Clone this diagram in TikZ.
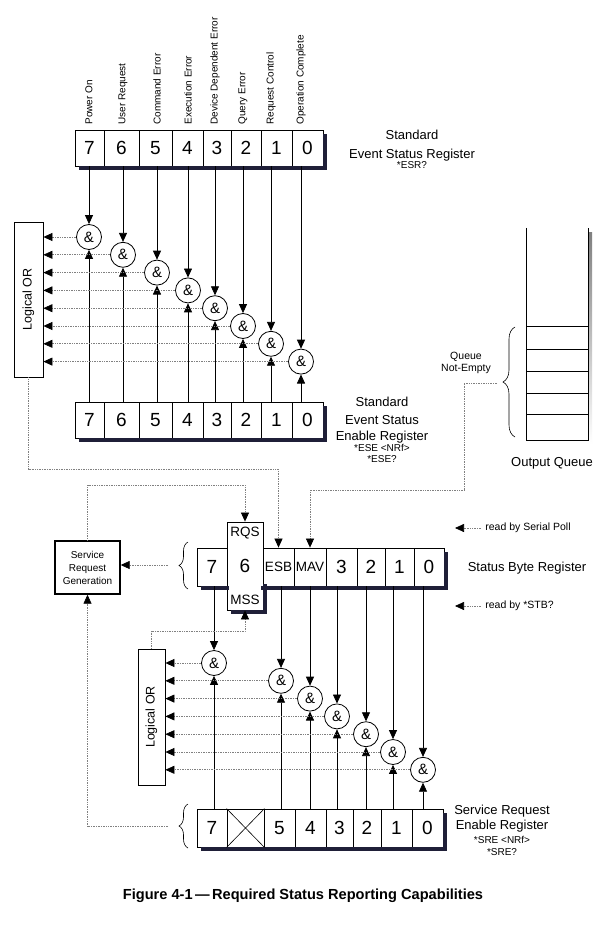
\documentclass[tikz,border=0pt]{standalone}
\usepackage{fontspec}
\setmainfont{Liberation Sans}
\usepackage{graphicx}
\usetikzlibrary{arrows.meta,positioning,decorations.pathreplacing}

\definecolor{shade}{rgb}{0.12,0.12,0.22}
\newcommand{\subfont}{\fontsize{10}{11}\selectfont}
\newcommand{\tagfont}{\fontsize{13.5}{14}\selectfont}

\begin{document}
\begin{tikzpicture}[
    x=1pt,y=-1pt,line width=0.8pt,
    cell/.style={draw,fill=white,inner sep=0pt,minimum height=36pt,
        font=\fontsize{19}{19}\selectfont},
    shadowline/.style={line width=4pt,line cap=rect,draw=shade},
    tag/.style={inner sep=0pt,font=\tagfont},
    andgate/.style={draw,circle,fill=white,inner sep=0pt,minimum size=25pt,
        font=\fontsize{15}{15}\selectfont},
    orbox/.style={draw,fill=white,inner sep=0pt,font=\fontsize{12.5}{12.5}\selectfont},
    srgbox/.style={draw,line width=1.4pt,align=center,inner sep=0pt,
        minimum width=65pt,minimum height=53pt,font=\fontsize{10}{13}\selectfont},
    bitlabel/.style={rotate=90,anchor=west,inner sep=0pt,font=\fontsize{10}{10}\selectfont},
    reglabel/.style={align=center,inner sep=0pt,font=\fontsize{13}{17}\selectfont},
    note/.style={align=center,inner sep=0pt,font=\fontsize{10.5}{12}\selectfont},
    arrow/.style={-{Triangle[length=9pt,width=8pt]}},
    dotarrow/.style={draw=black!50,densely dotted,line width=0.7pt,
        -{Triangle[length=9pt,width=8pt,color=black]}},
    brace/.style={decorate,decoration={brace,amplitude=9pt},line width=0.6pt}
]
\fill[white] (0,0) rectangle (606,925);
\useasboundingbox (0,0) rectangle (606,925);

% event status register and its enable register
\foreach \b/\xa/\xb in {7/75/104,6/104/139,5/139/172,4/172/203,3/203/231,2/231/261,1/261/292,0/292/323}{
    \pgfmathsetmacro\w{\xb-\xa}
    \node[cell,minimum width=\w pt] (esr\b) at ({(\xa+\xb)/2},148) {\b};
    \node[cell,minimum width=\w pt] (ese\b) at ({(\xa+\xb)/2},420) {\b};
}
\draw[shadowline] ([xshift=6pt,yshift=-2pt]esr7.south west) -| ([xshift=2pt,yshift=-6pt]esr0.north east);
\draw[shadowline] ([xshift=6pt,yshift=-2pt]ese7.south west) -| ([xshift=2pt,yshift=-6pt]ese0.north east);
\node[orbox,minimum width=29pt,minimum height=155pt] (esror) at (28.5,299.5)
    {\rotatebox{90}{Logical OR}};

\foreach \b/\x/\t [count=\k from 0] in {7/89/Power On,6/123/User Request,
        5/157/Command Error,4/188/Execution Error,3/215/Device Dependent Error,
        2/243/Query Error,1/271/Request Control,0/301/Operation Complete}{
    \node[bitlabel] (bit\b) at (\x,125) {\t};
    \node[andgate] (esand\b) at (\x,{237+17.8*\k}) {\&};
    \draw[arrow] (esr\b.south -| esand\b) -- (esand\b);
    \draw[arrow] (ese\b.north -| esand\b) -- (esand\b);
    \draw[dotarrow] (esand\b) -- (esand\b -| esror.east);
}

\node[reglabel,anchor=north] (esrlab) at (412,130)
    {Standard\\[2pt]Event Status Register\\[-7pt]{\subfont *ESR?}};
\node[reglabel,anchor=north] (eselab) at (382,397)
    {Standard\\[1pt]Event Status\\[-1pt]Enable Register\\[-6pt]{\subfont *ESE <NRf>}\\[-6pt]{\subfont *ESE?}};

% output queue
\fill[shade] (530,232) rectangle (592,444);
\fill[white] (526,228) rectangle (588,440);
\draw (526,228) -- (526,440) -- (588,440) -- (588,228);
\foreach \y in {326,349,371,393,414}
    \draw (526,\y) -- (588,\y);
\node[reglabel] (oqlab) at (552,463) {Output Queue};
\draw[brace,decoration={amplitude=12pt}] (515,437) -- (515,327);
\coordinate (qtip) at (497,383);
\node[note] (qne) at (466,363) {Queue\\Not-Empty};

% status byte register
\node[cell,minimum width=30pt,minimum height=38pt] (sb7) at (212,567) {7};
\node[cell,minimum width=36pt,minimum height=88pt] (sb6) at (245,566) {6};
\node[tag,below=5pt of sb6.north] (rqs) {RQS};
\node[tag,above=5pt of sb6.south] (mss) {MSS};
\foreach \b/\xa/\xb/\t in {5/263/294/{\tagfont ESB},4/294/326/{\tagfont MAV},
        3/326/357/3,2/357/385/2,1/385/414/1,0/414/444/0}{
    \pgfmathsetmacro\w{\xb-\xa}
    \node[cell,minimum width=\w pt,minimum height=38pt] (sb\b) at ({(\xa+\xb)/2},567) {\t};
}
\draw[shadowline] ([xshift=6pt,yshift=-2pt]sb7.south west) -- ([yshift=-2pt]sb7.south east);
\draw[shadowline] ([xshift=6pt,yshift=-2pt]sb6.south west) -| ([xshift=2pt]sb6.south east |- sb5.south);
\draw[shadowline] ([yshift=-2pt]sb5.south west) -| ([xshift=2pt,yshift=-6pt]sb0.north east);
\node[reglabel] (sblab) at (527,568) {Status Byte Register};
\draw[brace] (188,589) -- (188,542);
\coordinate (sbtip) at (168,565);

\node[note,anchor=west] (rdpoll) at (485,528) {read by Serial Poll};
\draw[dotarrow] ([xshift=-4pt]rdpoll.west) -- ++(-26,0);
\node[note,anchor=west] (rdstb) at (485,606) {read by *STB?};
\draw[dotarrow] ([xshift=-4pt]rdstb.west) -- ++(-26,0);

\node[srgbox] (srg) at (87.5,567.5) {Service\\Request\\Generation};

% service request enable register
\foreach \b/\xa/\xb/\t in {7/197/227/7,6/227/264/{},5/264/295/5,4/295/326/4,
        3/326/353/3,2/353/381/2,1/381/412/1,0/412/443/0}{
    \pgfmathsetmacro\w{\xb-\xa}
    \node[cell,minimum width=\w pt,minimum height=38pt] (sre\b) at ({(\xa+\xb)/2},828) {\t};
}
\draw[shadowline] ([xshift=6pt,yshift=-2pt]sre7.south west) -| ([xshift=2pt,yshift=-6pt]sre0.north east);
\draw[line width=0.6pt] (sre6.north west) -- (sre6.south east)
    (sre6.south west) -- (sre6.north east);
\node[reglabel,anchor=north] (srelab) at (502,805)
    {Service Request\\[-2pt]Enable Register\\[-3pt]{\subfont *SRE <NRf>}\\[-5pt]{\subfont *SRE?}};
\draw[brace] (188,848) -- (188,804);
\coordinate (sretip) at (168,826);

\node[orbox,minimum width=27pt,minimum height=136pt] (sreor) at (151.5,717)
    {\rotatebox{90}{Logical OR}};

\foreach \b/\x [count=\k from 0] in {7/214,5/281,4/310,3/337,2/366,1/393,0/423}{
    \node[andgate] (srand\b) at (\x,{663+17.8*\k}) {\&};
    \draw[arrow] (sb\b.south -| srand\b) -- (srand\b);
    \draw[arrow] (sre\b.north -| srand\b) -- (srand\b);
    \draw[dotarrow] (srand\b) -- (srand\b -| sreor.east);
}

% summary paths
\draw[dotarrow] (esror.south) -- ++(0,92) -| (sb5.north);
\draw[dotarrow] (qtip) -- ++(-33,0) -- ++(0,107) -| (sb4.north);
\draw[dotarrow] (srg.north) -- ++(0,-55) -| (sb6.north);
\draw[dotarrow] (sbtip) -- (sbtip -| srg.east);
\draw[dotarrow] (sretip) -| (srg.south);
\draw[dotarrow] (sreor.north) -- ++(0,-17) -| (sb6.south);

\node[font=\bfseries\fontsize{14.6}{15}\selectfont] (caption) at (303,896)
    {Figure 4-1\,—\,Required Status Reporting Capabilities};
\end{tikzpicture}
\end{document}
